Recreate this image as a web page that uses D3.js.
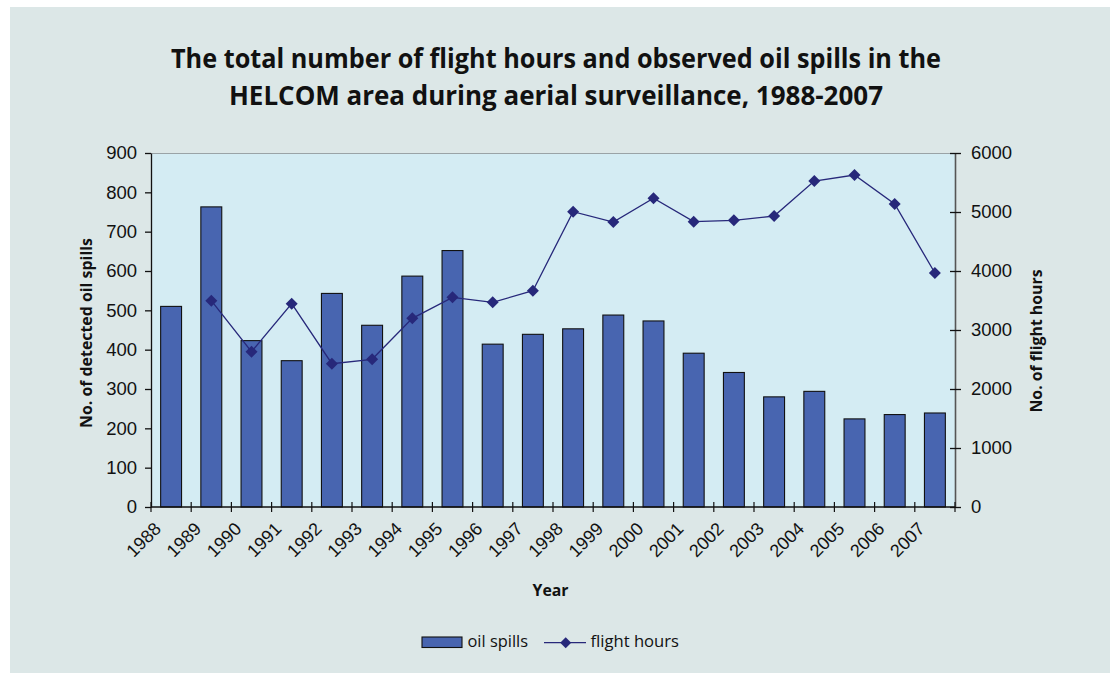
<!DOCTYPE html>
<html>
<head>
<meta charset="utf-8">
<script src="https://cdn.jsdelivr.net/npm/d3@7"></script>
<style>
  html, body { margin: 0; padding: 0; background: #ffffff; }
  svg { display: block; }
</style>
</head>
<body>
<svg id="chart" width="1120" height="674"></svg>
<script>
const years = ["1988","1989","1990","1991","1992","1993","1994","1995","1996","1997",
               "1998","1999","2000","2001","2002","2003","2004","2005","2006","2007"];
const oilSpills = [510, 763, 423, 372, 543, 462, 587, 652, 414, 439,
                   453, 488, 473, 391, 342, 280, 294, 224, 235, 239];
const flightHours = [null, 3497, 2632, 3446, 2429, 2503, 3198, 3554, 3469, 3666,
                     5005, 4830, 5232, 4836, 4859, 4932, 5525, 5627, 5136, 3966];
const leftTicks = [0, 100, 200, 300, 400, 500, 600, 700, 800, 900];
const rightTicks = [0, 1000, 2000, 3000, 4000, 5000, 6000];
const titleLines = ["The total number of flight hours and observed oil spills in the",
                    "HELCOM area during aerial surveillance, 1988-2007"];

const svg = d3.select("#chart");
const plot = {left: 151, right: 955, top: 153, bottom: 507};
const BAR = "#4865b0", LINE = "#27287a";
const TICKFONT = "'Liberation Sans', Arial, sans-serif";
const MYRIAD = "'Open Sans', 'Noto Sans', sans-serif";

// outer panel
svg.append("rect").attr("x", 10).attr("y", 7).attr("width", 1100).attr("height", 666)
  .attr("fill", "#dce7e7");

// title
svg.selectAll("text.title").data(titleLines).join("text")
  .attr("class", "title")
  .attr("x", 556).attr("y", (d, i) => 68 + i * 37)
  .attr("text-anchor", "middle")
  .attr("font-family", MYRIAD).attr("font-weight", 700).attr("font-size", 26)
  .attr("textLength", (d, i) => i === 0 ? 770 : 654)
  .attr("lengthAdjust", "spacingAndGlyphs")
  .attr("fill", "#111")
  .text(d => d);

const x = d3.scaleBand().domain(years).range([plot.left, plot.right])
  .paddingInner(0.48).paddingOuter(0.24);
const yL = d3.scaleLinear().domain([0, 900]).range([plot.bottom, plot.top]);
const yR = d3.scaleLinear().domain([0, 6000]).range([plot.bottom, plot.top]);

// plot background
svg.append("rect").attr("x", plot.left).attr("y", plot.top)
  .attr("width", plot.right - plot.left).attr("height", plot.bottom - plot.top)
  .attr("fill", "#d4ecf3");
svg.append("line").attr("x1", plot.left).attr("x2", plot.right)
  .attr("y1", plot.top + 0.5).attr("y2", plot.top + 0.5)
  .attr("stroke", "#9aa3a6").attr("stroke-width", 1.2);

// bars
svg.append("g").selectAll("rect").data(years).join("rect")
  .attr("x", d => x(d)).attr("width", x.bandwidth())
  .attr("y", (d, i) => yL(oilSpills[i]))
  .attr("height", (d, i) => yL(0) - yL(oilSpills[i]))
  .attr("fill", BAR).attr("stroke", "#111").attr("stroke-width", 1.1);

// left axis
const gL = svg.append("g").attr("transform", `translate(${plot.left},0)`)
  .call(d3.axisLeft(yL).tickValues(leftTicks).tickFormat(d3.format("d"))
    .tickSize(6).tickPadding(8).tickSizeOuter(0));
gL.select(".domain").attr("stroke", "#111").attr("stroke-width", 1.3);
gL.selectAll(".tick line").attr("stroke", "#111").attr("stroke-width", 1.3);
gL.selectAll("text").attr("font-family", TICKFONT).attr("font-size", 18.5).attr("fill", "#111");

// right axis
const gR = svg.append("g").attr("transform", `translate(${plot.right},0)`)
  .call(d3.axisRight(yR).tickValues(rightTicks).tickFormat(d3.format("d"))
    .tickSize(6).tickPadding(10).tickSizeOuter(0));
gR.select(".domain").attr("stroke", "#555").attr("stroke-width", 1.6);
gR.selectAll(".tick line").attr("x1", -5).attr("stroke", "#111").attr("stroke-width", 1.3);
gR.selectAll("text").attr("font-family", TICKFONT).attr("font-size", 18.5).attr("fill", "#111");

// x axis
const step = x.step();
const gap = (step - x.bandwidth()) / 2;
const bounds = years.map(d => x(d) - gap).concat([x(years[years.length - 1]) + x.bandwidth() + gap]);
svg.append("line").attr("x1", plot.left).attr("x2", plot.right)
  .attr("y1", plot.bottom).attr("y2", plot.bottom)
  .attr("stroke", "#111").attr("stroke-width", 1.3);
svg.append("g").selectAll("line").data(bounds).join("line")
  .attr("x1", d => d).attr("x2", d => d)
  .attr("y1", plot.bottom - 5).attr("y2", plot.bottom + 5)
  .attr("stroke", "#111").attr("stroke-width", 1.2);
svg.append("g").selectAll("text").data(years).join("text")
  .attr("transform", d => `translate(${x(d) + x.bandwidth() / 2 - 9},${plot.bottom + 23}) rotate(-45)`)
  .attr("text-anchor", "end")
  .attr("font-family", TICKFONT).attr("font-size", 18).attr("fill", "#111")
  .text(d => d);

// flight hours line
const pts = years.map((d, i) => ({year: d, v: flightHours[i]})).filter(p => p.v != null);
const line = d3.line().x(p => x(p.year) + x.bandwidth() / 2).y(p => yR(p.v));
svg.append("path").datum(pts).attr("d", line)
  .attr("fill", "none").attr("stroke", LINE).attr("stroke-width", 1.3);
svg.append("g").selectAll("path").data(pts).join("path")
  .attr("transform", p => `translate(${x(p.year) + x.bandwidth() / 2},${yR(p.v)}) rotate(45)`)
  .attr("d", d3.symbol().type(d3.symbolSquare).size(72))
  .attr("fill", LINE);

// axis titles
svg.append("text")
  .attr("transform", "translate(86,333) rotate(-90)")
  .attr("text-anchor", "middle").attr("dominant-baseline", "central")
  .attr("font-family", MYRIAD).attr("font-weight", 700).attr("font-size", 16)
  .attr("textLength", 190).attr("lengthAdjust", "spacingAndGlyphs")
  .attr("fill", "#111").text("No. of detected oil spills");
svg.append("text")
  .attr("transform", "translate(1036,341) rotate(-90)")
  .attr("text-anchor", "middle").attr("dominant-baseline", "central")
  .attr("font-family", MYRIAD).attr("font-weight", 700).attr("font-size", 16)
  .attr("textLength", 143).attr("lengthAdjust", "spacingAndGlyphs")
  .attr("fill", "#111").text("No. of flight hours");
svg.append("text")
  .attr("x", 550.5).attr("y", 596).attr("text-anchor", "middle")
  .attr("font-family", MYRIAD).attr("font-weight", 700).attr("font-size", 16)
  .attr("textLength", 36).attr("lengthAdjust", "spacingAndGlyphs")
  .attr("fill", "#111").text("Year");

// legend
const lg = svg.append("g");
lg.append("rect").attr("x", 422).attr("y", 637).attr("width", 40).attr("height", 10.5)
  .attr("fill", BAR).attr("stroke", "#111").attr("stroke-width", 1.1);
lg.append("text").attr("x", 467.5).attr("y", 647)
  .attr("font-family", MYRIAD).attr("font-size", 16.5)
  .attr("textLength", 60.5).attr("lengthAdjust", "spacingAndGlyphs")
  .attr("fill", "#111").text("oil spills");
lg.append("line").attr("x1", 544).attr("x2", 586).attr("y1", 642.7).attr("y2", 642.7)
  .attr("stroke", LINE).attr("stroke-width", 1.3);
lg.append("path").attr("transform", "translate(565.7,642.7) rotate(45)")
  .attr("d", d3.symbol().type(d3.symbolSquare).size(60)).attr("fill", LINE);
lg.append("text").attr("x", 590.5).attr("y", 647)
  .attr("font-family", MYRIAD).attr("font-size", 16.5)
  .attr("textLength", 88.5).attr("lengthAdjust", "spacingAndGlyphs")
  .attr("fill", "#111").text("flight hours");
</script>
</body>
</html>
